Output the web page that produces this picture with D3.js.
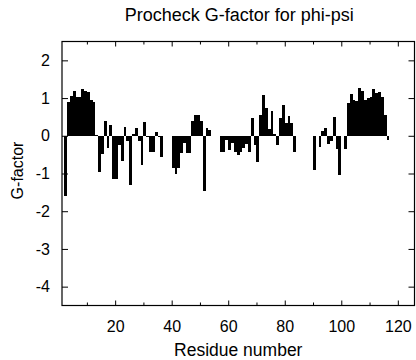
<!DOCTYPE html>
<html lang="en">
<head>
  <meta charset="UTF-8">
  <title>Procheck G-factor for phi-psi</title>
  <style>
    body { margin: 0; background: #fff; }
    svg { display: block; font-family: "Liberation Sans", Arial, sans-serif; }
    .axis text { font-size: 16px; fill: #000; }
    .axis line { stroke: #000; }
  </style>
</head>
<body>
  <script src="https://d3js.org/d3.v7.min.js"></script>
  <script>
    // residue numbers (x) and G-factor values (y)
    const residues = [
      2, 3, 4, 5, 6, 7, 8, 9, 10, 11, 12, 13, 14, 15, 16, 17, 18, 19, 20, 21,
      22, 23, 24, 25, 26, 27, 28, 29, 30, 31, 32, 33, 34, 35, 36, 37, 38, 39, 40, 41,
      42, 43, 44, 45, 46, 47, 48, 49, 50, 51, 52, 53, 54, 55, 56, 57, 58, 59, 60, 61,
      62, 63, 64, 65, 66, 67, 68, 69, 70, 71, 72, 73, 74, 75, 76, 77, 78, 79, 80, 81,
      82, 83, 84, 85, 86, 87, 88, 89, 90, 91, 92, 93, 94, 95, 96, 97, 98, 99, 100, 101,
      102, 103, 104, 105, 106, 107, 108, 109, 110, 111, 112, 113, 114, 115, 116
    ];
    const gfactor = [
      -1.60, 0.90, 1.06, 1.18, 1.02, 1.02, 1.25, 1.20, 1.15, 0.95, 0.90, 0.01, -0.96, -0.48, 0.39, -0.32, 0.29, -1.14, -1.14, -0.25,
      -0.68, 0.23, -0.15, -1.30, 0.04, 0.20, -0.15, -0.77, 0.37, -0.03, -0.44, -0.44, 0.09, -0.04, -0.56, 0, 0, 0, -0.85, -1.02,
      -0.85, -0.45, -0.20, -0.45, -0.45, 0.39, 0.55, 0.55, 0.40, -1.47, 0.20, 0.15, 0, 0, 0, -0.42, -0.42, -0.10, -0.38, -0.18,
      -0.42, -0.50, -0.42, -0.32, -0.22, -0.44, 0.46, -0.24, -0.69, 0.55, 1.08, 0.73, 0.17, 0.65, 0.06, -0.24, 0.46, 0.82, 0.33, 0.53,
      0.33, -0.44, 0, 0, 0, 0, 0, 0, -0.92, 0, -0.30, 0.14, 0.20, -0.21, -0.15, 0.49, -0.35, -1.03, 0, -0.35,
      0.88, 1.12, 0.96, 0.93, 1.28, 1.20, 0.95, 0.99, 1.03, 1.25, 1.13, 1.17, 1.02, 0.55, -0.12
    ];
    const xMajorTicks = [20, 40, 60, 80, 100, 120];
    const xMinorTicks = [10, 30, 50, 70, 90, 110];
    const yTicks = [-4, -3, -2, -1, 0, 1, 2];

    const width = 416;
    const height = 360;

    const x = d3.scaleLinear().domain([1.2, 125.9]).range([62, 414.5]);
    const y = d3.scaleLinear().domain([-4.5, 2.5]).range([305.5, 41.5]);

    const svg = d3.select('body')
      .append('svg')
      .attr('width', width)
      .attr('height', height);

    const data = residues.map((r, i) => ({ r: r, v: gfactor[i] }));

    // bars: each residue fills one unit step, drawn from zero
    svg.append('g')
      .attr('shape-rendering', 'crispEdges')
      .selectAll('rect')
      .data(data.filter(d => d.v !== 0))
      .enter()
      .append('rect')
      .attr('x', d => x(d.r))
      .attr('width', d => x(d.r + 1) - x(d.r))
      .attr('y', d => y(Math.max(d.v, 0)))
      .attr('height', d => Math.abs(y(d.v) - y(0)))
      .attr('fill', '#000');

    // axes, ticks pointing inwards on all four sides
    const [x0, x1] = x.range();
    const [y0, y1] = y.range();
    const plain = d => String(d); // gnuplot style hyphen minus

    svg.append('g').attr('class', 'axis')
      .attr('transform', `translate(0,${y0})`)
      .call(d3.axisBottom(x).tickValues(xMajorTicks).tickSize(-5).tickPadding(15).tickFormat(plain))
      .call(g => g.select('.domain').remove());
    svg.append('g').attr('class', 'axis')
      .attr('transform', `translate(0,${y0})`)
      .call(d3.axisBottom(x).tickValues(xMinorTicks).tickSize(-3).tickFormat(''))
      .call(g => g.select('.domain').remove());
    svg.append('g').attr('class', 'axis')
      .attr('transform', `translate(0,${y1})`)
      .call(d3.axisTop(x).tickValues(xMajorTicks).tickSize(-5).tickFormat(''))
      .call(g => g.select('.domain').remove());
    svg.append('g').attr('class', 'axis')
      .attr('transform', `translate(0,${y1})`)
      .call(d3.axisTop(x).tickValues(xMinorTicks).tickSize(-3).tickFormat(''))
      .call(g => g.select('.domain').remove());
    svg.append('g').attr('class', 'axis')
      .attr('transform', `translate(${x0},0)`)
      .call(d3.axisLeft(y).tickValues(yTicks).tickSize(-6).tickPadding(12).tickFormat(plain))
      .call(g => g.select('.domain').remove());
    svg.append('g').attr('class', 'axis')
      .attr('transform', `translate(${x1},0)`)
      .call(d3.axisRight(y).tickValues(yTicks).tickSize(-6).tickFormat(''))
      .call(g => g.select('.domain').remove());

    // frame
    svg.append('rect')
      .attr('x', x0)
      .attr('y', y1)
      .attr('width', x1 - x0)
      .attr('height', y0 - y1)
      .attr('fill', 'none')
      .attr('stroke', '#000')
      .attr('stroke-width', 1.2);

    // titles
    svg.append('text')
      .attr('x', (x0 + x1) / 2 + 1)
      .attr('y', 21)
      .attr('text-anchor', 'middle')
      .style('font-size', '18px')
      .text('Procheck G-factor for phi-psi');

    svg.append('text')
      .attr('x', (x0 + x1) / 2)
      .attr('y', 356)
      .attr('text-anchor', 'middle')
      .style('font-size', '17.5px')
      .text('Residue number');

    svg.append('text')
      .attr('transform', `translate(22.5,${(y0 + y1) / 2 - 3}) rotate(-90)`)
      .attr('text-anchor', 'middle')
      .style('font-size', '16px')
      .text('G-factor');
  </script>
</body>
</html>
